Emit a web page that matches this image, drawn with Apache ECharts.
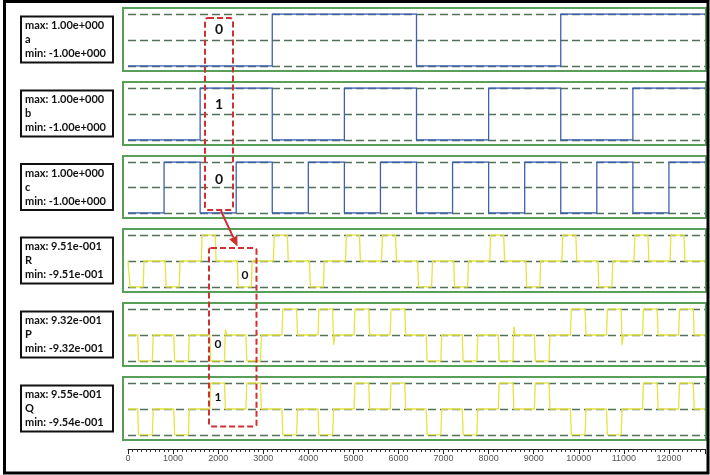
<!DOCTYPE html>
<html>
<head>
<meta charset="utf-8">
<script src="https://cdn.jsdelivr.net/npm/echarts@6/dist/echarts.min.js"></script>
<style>
  html, body { margin: 0; padding: 0; background: #ffffff; }
  #chart { width: 710px; height: 475px; }
</style>
</head>
<body>
<div id="chart"></div>
<script>
// ---- values ----
// bit slot boundaries on the time axis (16 slots)
const bitEdges = [0, 800, 1600, 2400, 3200, 4000, 4800, 5600, 6400, 7200, 8000, 8800, 9600, 10400, 11200, 12000, 12800];

// digital inputs (0 = low, 1 = high)
const aBits = [0, 0, 0, 0, 1, 1, 1, 1, 0, 0, 0, 0, 1, 1, 1, 1];
const bBits = [0, 0, 1, 1, 0, 0, 1, 1, 0, 0, 1, 1, 0, 0, 1, 1];
const cBits = [0, 1, 0, 1, 0, 1, 0, 1, 0, 1, 0, 1, 0, 1, 0, 1];

// pulse outputs (+1 = positive pulse, -1 = negative pulse)
const rLevels = [-1, -1, 1, -1, 1, -1, 1, 1, -1, -1, 1, -1, 1, -1, 1, 1];
const pLevels = [-1, -1, -1, -1, 1, 1, 1, 1, -1, -1, -1, -1, 1, 1, 1, 1];
const qLevels = [-1, -1, 1, 1, -1, -1, 1, 1, -1, -1, 1, 1, -1, -1, 1, 1];

// signal extremes
const digitalMax = 1.0, digitalMin = -1.0;
const rMax = 0.951, rMin = -0.951;
const pMax = 0.932, pMin = -0.932;
const qMax = 0.955, qMin = -0.954;

// pulse on/off time inside each slot
const rWindow = [25, 355];
const pWindow = [215, 560];
const qWindow = [215, 560];

// small overshoots at the end of some P pulses: [slot, value]
const pGlitches = [[2, 0.2], [5, -0.35], [10, 0.3], [13, -0.35]];

// header text of each trace
const traceNames = ['a', 'b', 'c', 'R', 'P', 'Q'];
const maxTexts = ['1.00e+000', '1.00e+000', '1.00e+000', '9.51e-001', '9.32e-001', '9.55e-001'];
const minTexts = ['-1.00e+000', '-1.00e+000', '-1.00e+000', '-9.51e-001', '-9.32e-001', '-9.54e-001'];

// time axis
const timeMin = 0, timeMax = 12800, timeStep = 1000;

// highlighted slot values
const topMarks = ['0', '1', '0'];
const bottomMarks = ['0', '0', '1'];

// ---- layout ----
const panelTop = [8, 82, 156, 229, 303, 377];
const panelBottom = [71, 145, 218, 292, 366, 440];
const plotLeft = 128, plotRight = 5;
const BLUE = '#3d5fb3', YELLOW = '#e4e442', RED = '#cf3030';
const FONT = 'Lato, "Open Sans", sans-serif';

function digitalPoints(bits, hi, lo) {
  const pts = [];
  bits.forEach((b, i) => {
    const v = b ? hi : lo;
    pts.push([bitEdges[i], v], [bitEdges[i + 1], v]);
  });
  return pts;
}

function pulsePoints(levels, hi, lo, win, glitches) {
  const edge = 20;
  const pts = [[bitEdges[0], 0]];
  levels.forEach((L, i) => {
    const t = bitEdges[i];
    const v = L > 0 ? hi : lo;
    pts.push([t + win[0], 0], [t + win[0] + edge, v], [t + win[1] - edge, v]);
    const g = (glitches || []).find(x => x[0] === i);
    if (g) {
      pts.push([t + win[1], g[1]], [t + win[1] + 30, 0]);
    } else {
      pts.push([t + win[1], 0]);
    }
  });
  pts.push([bitEdges[bitEdges.length - 1], 0]);
  return pts;
}

const traces = [
  { data: digitalPoints(aBits, digitalMax, digitalMin), hi: digitalMax, color: BLUE },
  { data: digitalPoints(bBits, digitalMax, digitalMin), hi: digitalMax, color: BLUE },
  { data: digitalPoints(cBits, digitalMax, digitalMin), hi: digitalMax, color: BLUE },
  { data: pulsePoints(rLevels, rMax, rMin, rWindow), hi: rMax, color: YELLOW },
  { data: pulsePoints(pLevels, pMax, pMin, pWindow, pGlitches), hi: pMax, color: YELLOW },
  { data: pulsePoints(qLevels, qMax, qMin, qWindow), hi: Math.max(qMax, -qMin), color: YELLOW }
];

const grid = [], xAxis = [], yAxis = [], series = [];
traces.forEach((tr, i) => {
  const top = panelTop[i] + 6;
  const bottom = panelBottom[i] - 5;
  grid.push({ left: plotLeft, right: plotRight, top: top, height: bottom - top });
  xAxis.push({ gridIndex: i, type: 'value', min: timeMin, max: timeMax, show: false });
  yAxis.push({
    gridIndex: i, type: 'value', min: -tr.hi, max: tr.hi, interval: tr.hi,
    axisLine: { show: false }, axisTick: { show: false }, axisLabel: { show: false },
    splitLine: { show: true, lineStyle: { color: '#52705a', type: [8, 4], width: 1.3 } }
  });
  series.push({
    type: 'line', xAxisIndex: i, yAxisIndex: i, data: tr.data,
    showSymbol: false, symbol: 'none', animation: false, z: 3,
    lineStyle: { color: tr.color, width: 1.3 }
  });
});

// time scale under the traces
grid.push({ left: plotLeft, right: plotRight, top: 448, height: 1 });
xAxis.push({
  gridIndex: 6, type: 'value', min: timeMin, max: timeMax, interval: timeStep, position: 'bottom',
  axisLine: { show: true, lineStyle: { color: '#222', width: 1 } },
  axisTick: { show: true, length: 5, lineStyle: { color: '#222' } },
  minorTick: { show: true, splitNumber: 10, length: 3, lineStyle: { color: '#333' } },
  axisLabel: {
    fontSize: 9, color: '#555', margin: 5, showMaxLabel: false,
    fontFamily: '"Liberation Sans", Arial, sans-serif',
    formatter: v => String(v)
  },
  splitLine: { show: false }
});
yAxis.push({ gridIndex: 6, type: 'value', show: false });

// ---- decorations ----
const graphics = [];
graphics.push({
  type: 'rect', z: 10, silent: true,
  shape: { x: 4.5, y: 1.5, width: 703.5, height: 471.5 },
  style: { fill: 'none', stroke: '#000', lineWidth: 3 }
});
traces.forEach((tr, i) => {
  graphics.push({
    type: 'rect', z: 1, silent: true,
    shape: { x: 123, y: panelTop[i], width: 583, height: panelBottom[i] - panelTop[i] },
    style: { fill: 'none', stroke: '#58a058', lineWidth: 2 }
  });
  const cy = (panelTop[i] + panelBottom[i]) / 2;
  graphics.push({
    type: 'rect', z: 10, silent: true,
    shape: { x: 21, y: cy - 23, width: 92, height: 46 },
    style: { fill: '#fff', stroke: '#111', lineWidth: 2 }
  });
  [['max: ' + maxTexts[i], -14], [traceNames[i], 0], ['min: ' + minTexts[i], 14]].forEach(([txt, dy]) => {
    graphics.push({
      type: 'text', z: 11, silent: true, x: 25, y: cy + dy,
      style: { text: txt, font: 'bold 11px ' + FONT, fill: '#111', textVerticalAlign: 'middle', textAlign: 'left' }
    });
  });
});

// highlighted slot on the inputs
graphics.push({
  type: 'rect', z: 12, silent: true,
  shape: { x: 205, y: 18, width: 28, height: 192, r: 3 },
  style: { fill: 'none', stroke: RED, lineWidth: 2, lineDash: [6, 3] }
});
[29, 104, 179].forEach((y, k) => {
  graphics.push({
    type: 'text', z: 12, silent: true, x: 219, y: y,
    style: { text: topMarks[k], font: 'bold 14px ' + FONT, fill: '#111', textAlign: 'center', textVerticalAlign: 'middle' }
  });
});

// highlighted slot on the outputs
graphics.push({
  type: 'rect', z: 12, silent: true,
  shape: { x: 209, y: 248, width: 47.5, height: 178.5, r: 2 },
  style: { fill: 'none', stroke: RED, lineWidth: 2, lineDash: [6, 3] }
});
[[245, 275], [218, 344], [218, 397]].forEach(([x, y], k) => {
  graphics.push({
    type: 'text', z: 12, silent: true, x: x, y: y,
    style: { text: bottomMarks[k], font: 'bold 12px ' + FONT, fill: '#111', textAlign: 'center', textVerticalAlign: 'middle' }
  });
});

// arrow from inputs to outputs
(function () {
  const x0 = 221, y0 = 211, x1 = 237.5, y1 = 246.5;
  const len = Math.hypot(x1 - x0, y1 - y0);
  const ux = (x1 - x0) / len, uy = (y1 - y0) / len;
  const head = 10, half = 4.5;
  const bx = x1 - ux * head, by = y1 - uy * head;
  graphics.push({
    type: 'line', z: 12, silent: true,
    shape: { x1: x0, y1: y0, x2: bx, y2: by },
    style: { stroke: RED, lineWidth: 2 }
  });
  graphics.push({
    type: 'polygon', z: 12, silent: true,
    shape: { points: [[x1, y1], [bx - uy * half, by + ux * half], [bx + uy * half, by - ux * half]] },
    style: { fill: RED }
  });
})();

const chart = echarts.init(document.getElementById('chart'), null, { renderer: 'canvas' });
chart.setOption({
  animation: false,
  backgroundColor: '#ffffff',
  grid: grid,
  xAxis: xAxis,
  yAxis: yAxis,
  series: series,
  graphic: { elements: graphics }
});
</script>
</body>
</html>
